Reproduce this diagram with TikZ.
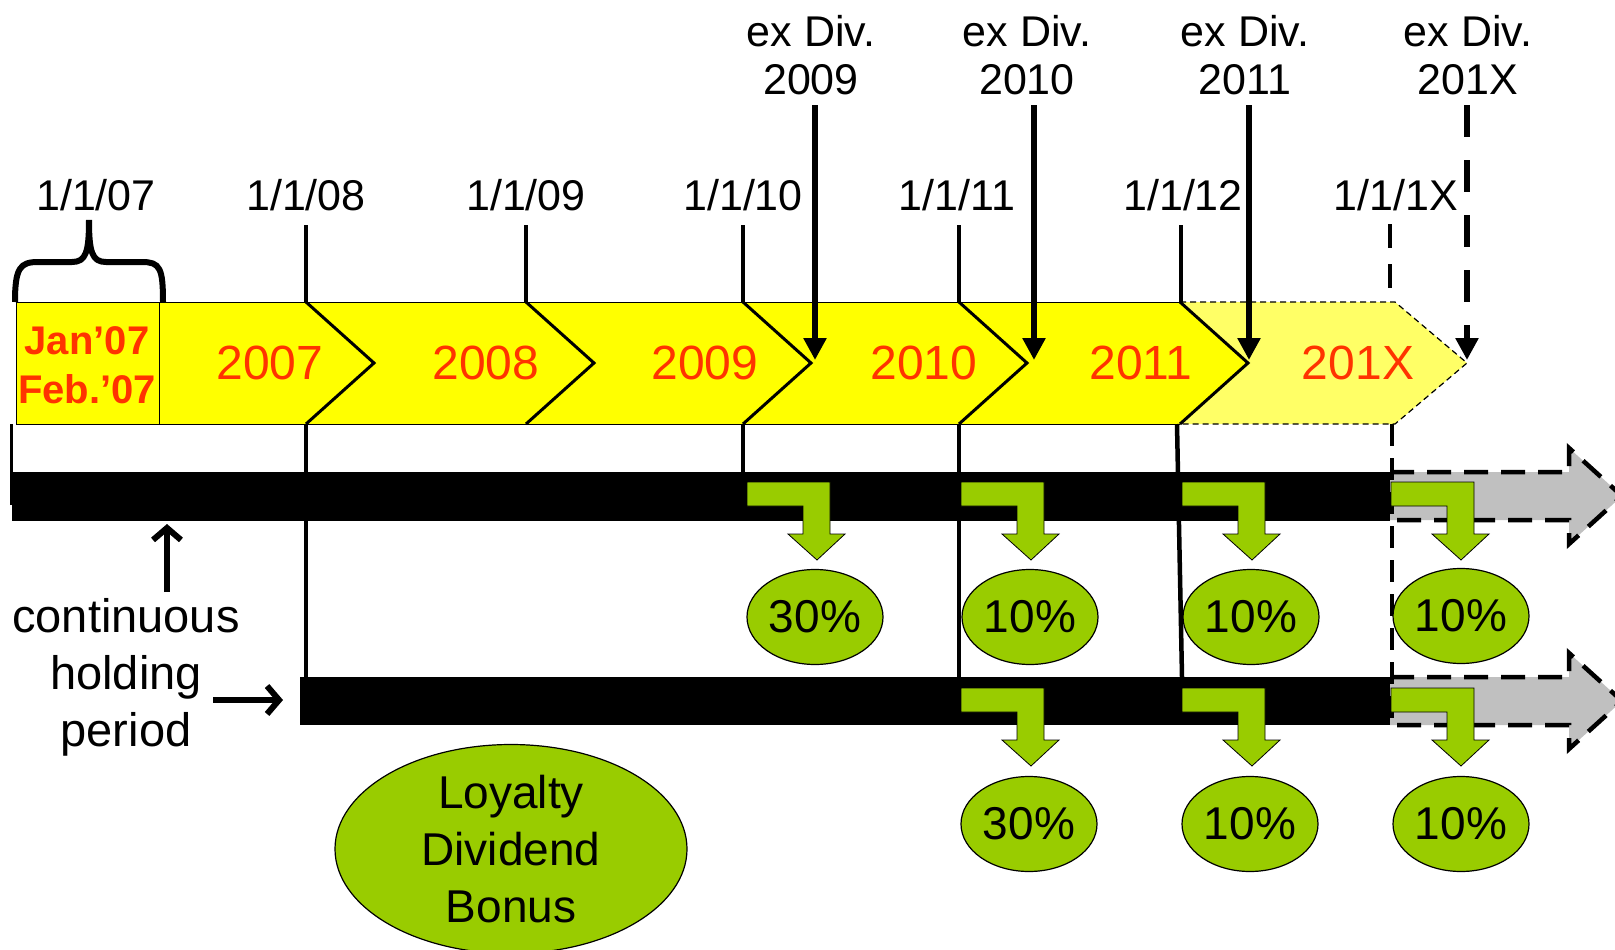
\documentclass[tikz,border=0pt]{standalone}
\usepackage{fontspec}
\setmainfont{Liberation Sans}
\usetikzlibrary{shapes.geometric,arrows.meta}
\definecolor{byellow}{HTML}{FFFF00}
\definecolor{lyellow}{HTML}{FFFF66}
\definecolor{ored}{HTML}{FF3300}
\definecolor{dgreen}{HTML}{99CC00}
\definecolor{agray}{HTML}{C0C0C0}
\begin{document}
\begin{tikzpicture}[x=1pt,y=-1pt,
  lbl/.style={font=\fontsize{43}{48}\selectfont, inner sep=0pt, align=center},
  yearlbl/.style={text=ored, font=\fontsize{48}{52}\selectfont, inner sep=0pt},
  tickline/.style={line width=4.5pt},
  dashtick/.style={line width=4.5pt, dash pattern=on 24pt off 16pt},
  pct/.style={ellipse, draw, line width=1.2pt, fill=dgreen, minimum width=136pt, minimum height=95pt, inner sep=0pt, font=\fontsize{46}{50}\selectfont},
  bentarr/.style={fill=dgreen, draw=black, line width=0.8pt},
  grayarr/.style={fill=agray, draw=black, line width=4.5pt, dash pattern=on 24pt off 13pt},
  exdiv/.style={line width=5.5pt, -{Triangle[width=22pt,length=22pt]}},
  ptr/.style={line width=6pt, -{Straight Barb[length=12pt,width=28pt,line width=6pt]}}
]
\useasboundingbox (0,0) rectangle (1615,950);
\clip (0,0) rectangle (1615,950);

% ---------- yellow band ----------
\fill[byellow] (16,302) -- (306,302) -- (374,363) -- (306,424) -- (16,424) -- cycle;
\foreach \a/\b in {306/526, 526/743, 743/959, 959/1180}
  \fill[byellow] (\a,302) -- (\b,302) -- (\b+68,363) -- (\b,424) -- (\a,424) -- (\a+68,363) -- cycle;
\fill[lyellow] (1180,302) -- (1395,302) -- (1467,363) -- (1395,424) -- (1180,424) -- (1248,363) -- cycle;
\draw[line width=1.2pt, dash pattern=on 6pt off 4pt] (1180,302) -- (1395,302) -- (1467,363) -- (1395,424) -- (1180,424);
\draw[line width=1pt] (16,302) -- (1180,302) (16,424) -- (1180,424) (16,302) -- (16,424);
\foreach \b in {306,526,743,959}
  \draw[line width=3pt] (\b,302) -- (\b+68,363) -- (\b,424);
\draw[line width=3pt] (1180,302) -- (1248,363) -- (1180,424);
\draw[line width=1pt, fill=byellow] (16,302) rectangle (159,424);

% brace
\draw[line width=6pt] (15,302) .. controls (15,268) and (20,262) .. (38,262) -- (72,262)
  .. controls (86,262) and (89,252) .. (89,220)
  .. controls (89,252) and (92,262) .. (106,262) -- (142,262)
  .. controls (160,262) and (163,268) .. (163,302);

% band texts
\node[font=\bfseries\fontsize{40}{49}\selectfont, text=ored, align=center, inner sep=0pt] (janfeb) at (87,365) {Jan’07\\Feb.’07};
\node[yearlbl] (y2007) at (270,363) {2007};
\node[yearlbl] (y2008) at (486,363) {2008};
\node[yearlbl] (y2009) at (705,363) {2009};
\node[yearlbl] (y2010) at (924,363) {2010};
\node[yearlbl] (y2011) at (1141,363) {2011};
\node[yearlbl] (y201X) at (1358,363) {201X};

% date labels and ticks
\node[lbl] (d07) at (96,195) {1/1/07};
\node[lbl] (d08) at (306,195) {1/1/08};
\node[lbl] (d09) at (526,195) {1/1/09};
\node[lbl] (d10) at (743,195) {1/1/10};
\node[lbl] (d11) at (957,195) {1/1/11};
\node[lbl] (d12) at (1183,195) {1/1/12};
\node[lbl] (d1X) at (1396,195) {1/1/1X};
\foreach \x in {306,526,743,959,1181}
  \draw[tickline] (\x,225) -- (\x,302);
\draw[dashtick] (1390,224) -- (1390,302);

% ex Div labels and arrows
\node[lbl] (e09) at (811,55) {ex Div.\\2009};
\node[lbl] (e10) at (1027,55) {ex Div.\\2010};
\node[lbl] (e11) at (1245,55) {ex Div.\\2011};
\node[lbl] (e1X) at (1468,55) {ex Div.\\201X};
\coordinate (t09) at (815,360);
\coordinate (t10) at (1034,360);
\coordinate (t11) at (1249,360);
\coordinate (t1X) at (1467,360);
\draw[exdiv] (815,105) -- (t09);
\draw[exdiv] (1034,105) -- (t10);
\draw[exdiv] (1249,105) -- (t11);
\draw[exdiv, dash pattern=on 32pt off 23pt] (1467,105) -- (t1X);

% lines below band
\draw[line width=3pt] (11,424) -- (11,505);
\draw[tickline] (306,424) -- (306,677);
\draw[tickline] (743,424) -- (743,472);
\draw[tickline] (959,424) -- (959,677);
\draw[tickline] (1177,424) -- (1182,677);

% gray dashed arrows
\draw[grayarr] (1390,472) -- (1569,472) -- (1569,448) -- (1622,496) -- (1569,544) -- (1569,520) -- (1390,520);
\draw[grayarr] (1390,677) -- (1569,677) -- (1569,653) -- (1622,701) -- (1569,749) -- (1569,725) -- (1390,725);

% black bars
\fill[black] (12,472) rectangle (1390,521);
\fill[black] (300,677) rectangle (1390,725);
\draw[dashtick, dash pattern=on 22pt off 12pt] (1392,424) -- (1392,726);

% green bent arrows
\foreach \L/\T in {747/482, 961/482, 1182/482, 1391/482, 961/688, 1182/688, 1391/688}
  \draw[bentarr, shift={(\L,\T)}] (0,0) -- (83,0) -- (83,52) -- (98,52) -- (70,78) -- (41,52) -- (56,52) -- (56,24) -- (0,24) -- cycle;

% percentage ellipses
\node[pct] (p1) at (815,617) {30\%};
\node[pct] (p2) at (1030,617) {10\%};
\node[pct] (p3) at (1251,617) {10\%};
\node[pct] (p4) at (1461,616) {10\%};
\node[pct] (q1) at (1029,824) {30\%};
\node[pct] (q2) at (1250,824) {10\%};
\node[pct] (q3) at (1461,824) {10\%};

% loyalty bonus
\node[ellipse, draw, line width=1.2pt, fill=dgreen, minimum width=352pt, minimum height=206pt, inner sep=0pt, align=center, font=\fontsize{46}{57}\selectfont] (loyal) at (511,849) {Loyalty\\Dividend\\Bonus};

% continuous holding period
\node[align=center, inner sep=0pt, font=\fontsize{47}{57}\selectfont] (chp) at (126,677) {continuous\\holding\\period};
\coordinate (up0) at (167,592);
\coordinate (up1) at (167,524);
\coordinate (rt0) at (213,700);
\coordinate (rt1) at (283,700);
\draw[ptr] (up0) -- (up1);
\draw[ptr] (rt0) -- (rt1);
\end{tikzpicture}
\end{document}
